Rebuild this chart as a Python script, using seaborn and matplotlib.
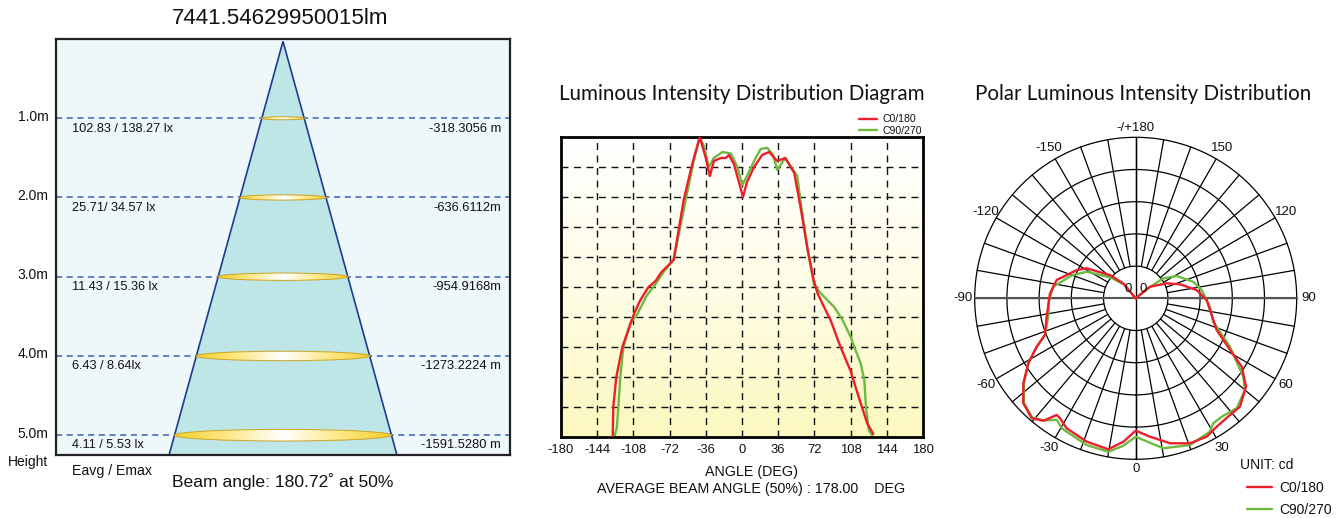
import numpy as np
import seaborn as sns
import matplotlib.pyplot as plt
from matplotlib.patches import Polygon, Ellipse
from matplotlib.colors import LinearSegmentedColormap

sns.set_theme(style="white")
plt.rcParams['font.family'] = ['Liberation Sans', 'DejaVu Sans']
plt.rcParams['text.color'] = '#111111'

# ---------------- data ----------------
flux_title = "7441.54629950015lm"
heights = [1.0, 2.0, 3.0, 4.0, 5.0]
height_labels = ["1.0m", "2.0m", "3.0m", "4.0m", "5.0m"]
lux_labels = ["102.83 / 138.27 lx", "25.71/ 34.57 lx", "11.43 / 15.36 lx",
              "6.43 / 8.64lx", "4.11 / 5.53 lx"]
diam_labels = ["-318.3056 m", "-636.6112m", "-954.9168m", "-1273.2224 m", "-1591.5280 m"]
beam_text = "Beam angle: 180.72˚ at 50%"
cone_slope = 0.274  # drawn half width of the cone per metre

# luminous intensity (relative) vs angle, cartesian diagram
c0_angle = [-128.6, -128, -125, -119, -107.5, -101, -93, -86, -80, -74, -68, -58, -49.5, -42,
            -36, -32, -28, -21, -16, -13, -8, 1, 5, 12, 20, 27, 35, 43, 52, 58, 65, 71.5,
            75, 81.5, 88, 98, 108, 116, 124.5, 130.5]
c0_value = [0.0, 0.10, 0.20, 0.30, 0.41, 0.457, 0.50, 0.52, 0.55, 0.57, 0.59, 0.79, 0.91, 1.0,
            0.93, 0.87, 0.92, 0.93, 0.93, 0.94, 0.91, 0.80, 0.85, 0.90, 0.94, 0.95, 0.92, 0.93,
            0.88, 0.77, 0.63, 0.52, 0.48, 0.434, 0.39, 0.30, 0.22, 0.134, 0.046, 0.01]
c90_angle = [-127, -124.5, -123, -121, -118, -111, -104, -95, -86, -78, -68, -56, -48, -42,
             -38, -33, -28, -19.5, -11, -4.6, 0.4, 5, 12, 18.5, 25, 31, 35, 43, 55, 58, 65,
             71.5, 78, 91.5, 100, 108, 114, 118, 121.6, 123.3, 126, 129.5]
c90_value = [0.0, 0.03, 0.10, 0.20, 0.30, 0.38, 0.41, 0.47, 0.51, 0.55, 0.59, 0.79, 0.92, 1.0,
             0.97, 0.90, 0.93, 0.95, 0.945, 0.90, 0.84, 0.87, 0.92, 0.96, 0.964, 0.94, 0.89,
             0.93, 0.87, 0.79, 0.63, 0.51, 0.48, 0.434, 0.39, 0.334, 0.28, 0.245, 0.19, 0.10,
             0.023, 0.005]
angle_ticks = [-180, -144, -108, -72, -36, 0, 36, 72, 108, 144, 180]

# polar diagram (relative radius)
polar_c0_angle = [-145, -140, -132, -121.5, -115.6, -103, -93.3, -78.3, -68, -63.9, -58.8,
                  -52.9, -47, -40.9, -37, -34.1, -32.2, -28, -18.9, -10.3, -4.9, 0, 5.9, 13.3,
                  20.5, 27.2, 32.2, 38.9, 43.9, 51.3, 57.2, 61.3, 68.6, 77.6, 88.6, 97.7, 107.5,
                  115.8, 129, 133]
polar_c0_r = [0.0, 0.12, 0.215, 0.357, 0.406, 0.504, 0.533, 0.565, 0.608, 0.685, 0.78, 0.875,
              0.955, 0.986, 0.952, 0.875, 0.881, 0.914, 0.941, 0.953, 0.894, 0.822, 0.864,
              0.925, 0.962, 0.966, 0.943, 0.932, 0.934, 0.878, 0.784, 0.668, 0.54, 0.483,
              0.441, 0.382, 0.289, 0.214, 0.114, 0.0]
polar_c90_angle = [-145, -140, -130, -118.5, -110, -98, -88, -78.1, -68, -63.9, -58.8, -52.9,
                   -47, -41, -37, -33, -29.6, -18.5, -10.1, -4.9, 0, 10.4, 20.3, 29.1, 31.8,
                   36, 42.6, 50, 53.9, 62.8, 73.2, 83.5, 97.2, 106, 118.5, 126, 129.3, 132]
polar_c90_r = [0.0, 0.11, 0.20, 0.346, 0.42, 0.517, 0.54, 0.555, 0.608, 0.685, 0.78, 0.87,
               0.95, 0.98, 0.95, 0.90, 0.929, 0.961, 0.968, 0.92, 0.86, 0.947, 0.972, 0.948,
               0.914, 0.909, 0.927, 0.886, 0.827, 0.658, 0.503, 0.464, 0.413, 0.372, 0.29,
               0.211, 0.088, 0.0]
polar_tick_angles = [180, -150, 150, -120, 120, -90, 90, -60, 60, -30, 30, 0]
polar_tick_labels = ["-/+180", "-150", "150", "-120", "120", "-90", "90", "-60", "60",
                     "-30", "30", "0"]

RED = '#ee1d2a'
GREEN = '#6cba3f'
W, H = 1341, 518

fig = plt.figure(figsize=(W / 100, H / 100), dpi=100)

# ---------------- left: cone diagram ----------------
ax1 = fig.add_axes([56 / W, 1 - 455 / H, 454 / W, 416 / H])
y_bot = 5.25
ax1.set_facecolor('#eef7fa')
ax1.add_patch(Polygon([(0, 0.03), (-cone_slope * y_bot, y_bot), (cone_slope * y_bot, y_bot)],
                      closed=True, fc='#bfe6e6', ec='#1d3b91', lw=1.2, zorder=2))
glow = LinearSegmentedColormap.from_list('glow', ['#ffffff', '#fce98a', '#f6cf2c'])
for h in heights:
    ax1.axhline(h, color='#3f60b8', lw=1.1, ls=(0, (4, 3)), zorder=1)
    w = 2 * cone_slope * h
    eh = 0.027 * h + 0.012
    e = Ellipse((0, h), w, eh, fc='#f6cf2c', ec='none', zorder=3)
    ax1.add_patch(e)
    im = ax1.imshow(np.abs(np.linspace(-1, 1, 256))[None, :], cmap=glow,
                    extent=(-w / 2, w / 2, h + eh / 2, h - eh / 2), aspect='auto',
                    interpolation='bilinear', zorder=3.5)
    im.set_clip_path(e)
    ax1.add_patch(Ellipse((0, h), w, eh, fc='none', ec='#c9a52c', lw=0.7, zorder=4))
ax1.set_xlim(-2.866, 2.866)
ax1.set_ylim(y_bot, 0)
ax1.set_xticks([])
ax1.set_yticks([])
for s in ax1.spines.values():
    s.set_color('#222222')
    s.set_linewidth(1.6)

tr = ax1.get_yaxis_transform()
for h, hl, ll, dl in zip(heights, height_labels, lux_labels, diam_labels):
    ax1.text(-0.016, h - 0.02, hl, transform=tr, ha='right', va='center', fontsize=10)
    ax1.text(0.035, h + 0.13, ll, transform=tr, ha='left', va='center', fontsize=9.2)
    ax1.text(0.98, h + 0.13, dl, transform=tr, ha='right', va='center', fontsize=9.3)
ax1.text(-0.062, 5.34, "Height", transform=tr, ha='center', va='center', fontsize=10)
ax1.text(0.035, 5.455, "Eavg / Emax", transform=tr, ha='left', va='center', fontsize=10.2)
ax1.text(0, 5.58, beam_text, ha='center', va='center', fontsize=12.6, clip_on=False)
fig.text(280 / W, 1 - 18 / H, flux_title, ha='center', va='center', fontsize=16.1)

# ---------------- middle: cartesian distribution ----------------
ax2 = fig.add_axes([561 / W, 1 - 437 / H, 362 / W, 300 / H])
bg = LinearSegmentedColormap.from_list('bg', ['#ffffff', '#fffde6', '#fcf8bf'])
ax2.imshow(np.linspace(0, 1, 256)[:, None], cmap=bg, extent=(-180, 180, 0, 1),
           aspect='auto', zorder=0)
for a in angle_ticks[1:-1]:
    ax2.axvline(a, color='#111111', lw=1, ls=(0, (5, 4)), zorder=1)
for v in np.arange(0.1, 0.95, 0.1):
    ax2.axhline(v, color='#111111', lw=1, ls=(0, (5, 4)), zorder=1)
sns.lineplot(x=c0_angle, y=c0_value, ax=ax2, color=RED, lw=1.7, label='C0/180',
             sort=False, estimator=None, zorder=3)
sns.lineplot(x=c90_angle, y=c90_value, ax=ax2, color=GREEN, lw=1.7, label='C90/270',
             sort=False, estimator=None, zorder=2)
ax2.set_xlim(-180, 180)
ax2.set_ylim(0, 1)
ax2.set_xticks(angle_ticks)
ax2.set_xticklabels([str(a) for a in angle_ticks])
ax2.set_yticks([])
ax2.tick_params(axis='x', length=0, pad=5, labelsize=9.4, colors='#111111')
for s in ax2.spines.values():
    s.set_color('black')
    s.set_linewidth(2)
ax2.legend(loc='lower right', bbox_to_anchor=(1.0, 1.0), frameon=False, fontsize=7.6,
           handlelength=1.7, handletextpad=0.5, labelspacing=0.15, borderpad=0,
           borderaxespad=0.1)
fig.text(742 / W, 1 - 94 / H, "Luminous Intensity Distribution Diagram", ha='center',
         va='center', fontsize=14.8, family=['Lato', 'DejaVu Sans'])
fig.text(752 / W, 1 - 472 / H, "ANGLE (DEG)", ha='center', va='center', fontsize=10.3)
fig.text(751 / W, 1 - 489 / H, "AVERAGE BEAM ANGLE (50%) : 178.00    DEG", ha='center',
         va='center', fontsize=10.3)

# ---------------- right: polar distribution ----------------
ax3 = fig.add_axes([974.7 / W, 1 - 459.3 / H, 322 / W, 322 / H], projection='polar')
ax3.set_theta_zero_location('S')
ax3.set_theta_direction(1)
ax3.grid(False)
ax3.set_xticks([])
ax3.set_yticks([])
ax3.spines['polar'].set_visible(False)
th = np.linspace(0, 2 * np.pi, 721)
for r in [0.2, 0.4, 0.6, 0.8, 1.0]:
    ax3.plot(th, np.full_like(th, r), color='black', lw=0.9, zorder=1, clip_on=False)
for d in range(0, 360, 10):
    ax3.plot([np.radians(d)] * 2, [0.2, 1.0], color='black', lw=0.9, zorder=1, clip_on=False)
ax3.plot([0, 0], [0, 1], color='black', lw=1, zorder=1, clip_on=False)
ax3.plot([np.pi, np.pi], [0, 1], color='black', lw=1, zorder=1, clip_on=False)
ax3.plot([np.pi / 2] * 2, [0, 1], color='#555555', lw=1.5, zorder=1, clip_on=False)
ax3.plot([-np.pi / 2] * 2, [0, 1], color='#555555', lw=1.5, zorder=1, clip_on=False)
sns.lineplot(x=np.radians(polar_c90_angle), y=polar_c90_r, ax=ax3, color=GREEN, lw=1.7,
             label='C90/270', sort=False, estimator=None, zorder=2)
sns.lineplot(x=np.radians(polar_c0_angle), y=polar_c0_r, ax=ax3, color=RED, lw=1.7,
             label='C0/180', sort=False, estimator=None, zorder=3)
ax3.set_ylim(0, 1)
ax3.set_xlabel('')
ax3.set_ylabel('')
for d, lab in zip(polar_tick_angles, polar_tick_labels):
    rr = 1.06 if d in (0, 180) else 1.075
    ax3.text(np.radians(d), rr, lab, ha='center', va='center', fontsize=9.5, clip_on=False)
ax3.text(np.radians(-140), 0.075, "0", ha='center', va='center', fontsize=9.5)
ax3.text(np.radians(140), 0.075, "0", ha='center', va='center', fontsize=9.5)
hnd, lbl = ax3.get_legend_handles_labels()
ax3.legend(hnd[::-1], lbl[::-1], loc='upper left', bbox_to_anchor=(1247 / W, 1 - 481 / H),
           bbox_transform=fig.transFigure, frameon=False, fontsize=10, handlelength=1.8,
           handletextpad=0.5, labelspacing=0.55, borderpad=0, borderaxespad=0)
fig.text(1240 / W, 1 - 465 / H, "UNIT: cd", ha='left', va='center', fontsize=10)
fig.text(1143 / W, 1 - 94 / H, "Polar Luminous Intensity Distribution", ha='center',
         va='center', fontsize=14.8, family=['Lato', 'DejaVu Sans'])

fig.savefig('out.png', dpi=100)
